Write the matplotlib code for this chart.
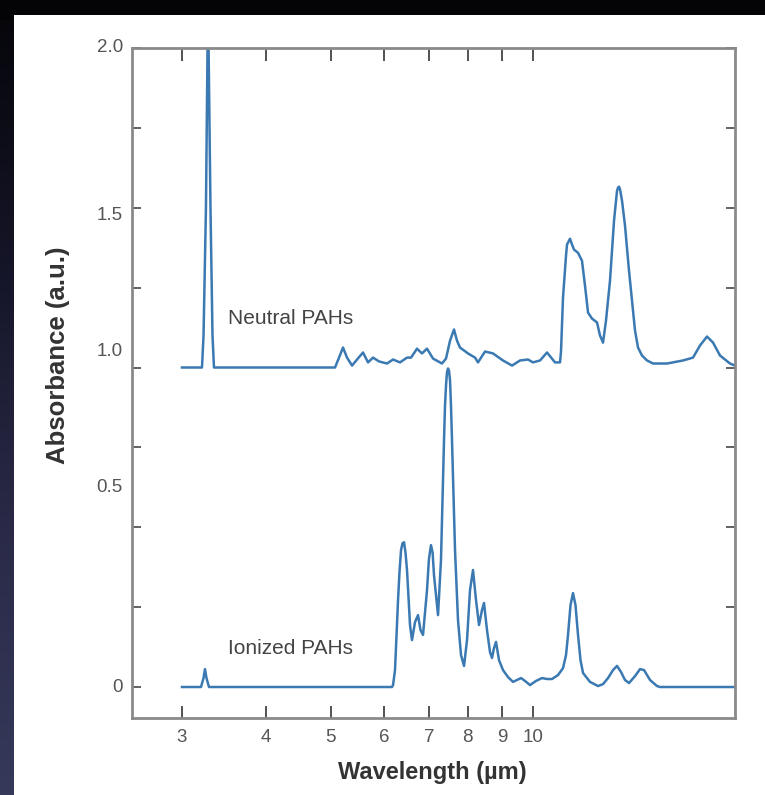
import numpy as np
import matplotlib
matplotlib.use("Agg")
import matplotlib.pyplot as plt
from matplotlib.patches import Rectangle
from matplotlib.colors import LinearSegmentedColormap

plt.rcParams['font.family'] = ['Liberation Sans', 'DejaVu Sans']

# ---------------- data ----------------
neutral_wl = [3.000, 3.191, 3.213, 3.230, 3.257, 3.280, 3.308, 3.331, 3.348,
              5.072, 5.142, 5.213, 5.285, 5.377, 5.470, 5.583, 5.680, 5.778, 5.898,
              6.062, 6.189, 6.339, 6.493, 6.583, 6.720, 6.836, 6.954, 7.099, 7.322,
              7.423, 7.526, 7.629, 7.708, 7.788, 8.005, 8.200, 8.284, 8.486, 8.722,
              9.026, 9.310, 9.569, 9.835, 10.005, 10.249, 10.498, 10.790, 10.977,
              11.014, 11.090, 11.205, 11.244, 11.360, 11.438, 11.517, 11.676, 11.837,
              11.960, 12.084, 12.251, 12.463, 12.592, 12.722, 12.853, 13.031, 13.211,
              13.348, 13.394, 13.440, 13.486, 13.579, 13.719, 13.909, 14.053, 14.198,
              14.345, 14.543, 14.795, 15.103, 15.847, 16.741, 17.325, 17.747, 18.178,
              18.556, 19.007, 19.671, 20.011]
neutral_abs = [1.0, 1.0, 1.0, 1.10, 1.50, 2.15, 1.50, 1.10, 1.0,
               1.0, 1.031, 1.0625, 1.031, 1.006, 1.025, 1.047, 1.016, 1.031, 1.019,
               1.0125, 1.025, 1.016, 1.031, 1.031, 1.059, 1.044, 1.059, 1.028, 1.0125,
               1.028, 1.084, 1.119, 1.084, 1.0625, 1.044, 1.031, 1.016, 1.05, 1.044,
               1.022, 1.006, 1.022, 1.025, 1.016, 1.022, 1.047, 1.016, 1.016,
               1.05, 1.219, 1.35, 1.385, 1.403, 1.385, 1.369, 1.359, 1.334,
               1.256, 1.172, 1.153, 1.141, 1.10, 1.078, 1.147, 1.272, 1.459,
               1.553, 1.563, 1.566, 1.558, 1.522, 1.444, 1.303, 1.209, 1.116,
               1.0625, 1.0375, 1.022, 1.0125, 1.0125, 1.022, 1.031, 1.069, 1.097,
               1.078, 1.0375, 1.0125, 1.006]

ionized_wl = [3.000, 3.202, 3.230, 3.246, 3.263, 3.291,
              6.167, 6.189, 6.231, 6.263, 6.296, 6.328, 6.361, 6.394, 6.427, 6.460,
              6.493, 6.527, 6.560, 6.605, 6.674, 6.743,
              6.801, 6.860, 6.954, 7.000, 7.050, 7.090, 7.123, 7.222, 7.296, 7.372,
              7.397, 7.423, 7.448, 7.474, 7.500, 7.526, 7.551,
              7.577, 7.656, 7.735, 7.815, 7.896, 7.978, 8.060, 8.143, 8.228,
              8.313, 8.399, 8.457, 8.544, 8.633, 8.692, 8.752, 8.812, 8.904, 9.026,
              9.183, 9.342, 9.471, 9.602, 9.734, 9.903, 10.109, 10.319, 10.498,
              10.679, 10.902, 11.090, 11.205, 11.282, 11.379, 11.477, 11.576, 11.676,
              11.777, 11.878, 12.167, 12.505, 12.722, 12.942, 13.166, 13.348, 13.532,
              13.719, 13.909, 14.198, 14.444, 14.644, 14.948, 15.312, 15.470, 20.011]
ionized_abs = [0.0, 0.0, 0.028, 0.056, 0.028, 0.0,
               0.0, 0.006, 0.053, 0.16, 0.272, 0.36, 0.428, 0.450, 0.453, 0.42,
               0.366, 0.28, 0.194, 0.147, 0.203, 0.225,
               0.178, 0.163, 0.303, 0.40, 0.444, 0.42, 0.35, 0.225, 0.397, 0.772,
               0.88, 0.944, 0.985, 0.997, 0.99, 0.959, 0.88,
               0.772, 0.428, 0.209, 0.10, 0.066, 0.147, 0.303, 0.366, 0.272,
               0.194, 0.241, 0.263, 0.178, 0.109, 0.091, 0.122, 0.141, 0.084, 0.053,
               0.031, 0.016, 0.022, 0.028, 0.019, 0.006, 0.019, 0.028, 0.025,
               0.025, 0.0375, 0.059, 0.10, 0.163, 0.256, 0.294, 0.256, 0.163,
               0.084, 0.044, 0.016, 0.003, 0.009, 0.028, 0.053, 0.066, 0.047,
               0.022, 0.0125, 0.034, 0.056, 0.053, 0.022, 0.003, 0.0, 0.0]

x_ticks = [3, 4, 5, 6, 7, 8, 9, 10]
x_tick_labels = ['3', '4', '5', '6', '7', '8', '9', '10']
y_ticks = [0, 0.25, 0.5, 0.75, 1.0, 1.25, 1.5, 1.75, 2.0]
y_label_text = ['2.0', '1.5', '1.0', '0.5', '0']
y_label_pos = [2.003, 1.477, 1.049, 0.623, -0.003]

# ---------------- figure ----------------
W, H = 765, 795
fig = plt.figure(figsize=(W / 100, H / 100), dpi=100, facecolor='#06060b')

# dark background with gradient on the left strip
bg = fig.add_axes([0, 0, 1, 1])
bg.set_axis_off()
cmap = LinearSegmentedColormap.from_list('bgc', ['#050509', '#151528', '#2a2a48', '#36395a'])
grad = np.linspace(0, 1, 256).reshape(-1, 1)
bg.imshow(grad, aspect='auto', cmap=cmap, extent=[0, 1, 0, 1], origin='upper')
bg.add_patch(Rectangle((0, 0.975), 1, 0.025, transform=bg.transAxes,
                       facecolor='#040406', edgecolor='none'))
bg.add_patch(Rectangle((14 / W, 0), 1 - 14 / W, 1 - 15 / H, transform=bg.transAxes,
                       facecolor='white', edgecolor='none'))
bg.set_xlim(0, 1)
bg.set_ylim(0, 1)

left, right, top, bottom = 132, 735, 48, 718
ax = fig.add_axes([left / W, 1 - bottom / H, (right - left) / W, (bottom - top) / H])
ax.set_facecolor('none')

line_color = '#3a79b2'
ax.plot(neutral_wl, neutral_abs, color=line_color, lw=1.8, solid_joinstyle='round')
ax.plot(ionized_wl, ionized_abs, color=line_color, lw=1.8, solid_joinstyle='round')

ax.set_xscale('log')
ax.set_xlim(2.527, 20.01)
ax.set_ylim(-0.097, 2.0)

ax.set_xticks(x_ticks)
ax.set_xticklabels(x_tick_labels)
ax.xaxis.set_minor_locator(matplotlib.ticker.NullLocator())
ax.set_yticks(y_ticks)
ax.set_yticklabels([])

ax.tick_params(axis='x', which='major', direction='in', top=True, bottom=True,
               length=9, width=1.3, color='#444444', labelsize=13.5,
               labelcolor='#555555', pad=8)
ax.tick_params(axis='y', which='major', direction='in', left=True, right=True,
               length=6.5, width=1.3, color='#555555')

for s in ax.spines.values():
    s.set_color('#8a8a8a')
    s.set_linewidth(2.0)

for txt, pos in zip(y_label_text, y_label_pos):
    ax.text(-0.015, pos, txt, transform=ax.get_yaxis_transform(), ha='right',
            va='center', fontsize=13.5, color='#555555')

ax.text(3.513, 1.153, 'Neutral PAHs', fontsize=15, color='#444444', va='center', ha='left')
ax.text(3.513, 0.122, 'Ionized PAHs', fontsize=15, color='#444444', va='center', ha='left')

fig.text(432 / W, 1 - 772 / H, 'Wavelength (µm)', fontsize=17, fontweight='bold',
         color='#333333', ha='center', va='center')
fig.text(58 / W, 1 - 355 / H, 'Absorbance (a.u.)', fontsize=18.5, fontweight='bold',
         color='#333333', ha='center', va='center', rotation=90)

fig.savefig('out.png', dpi=100, facecolor=fig.get_facecolor())
